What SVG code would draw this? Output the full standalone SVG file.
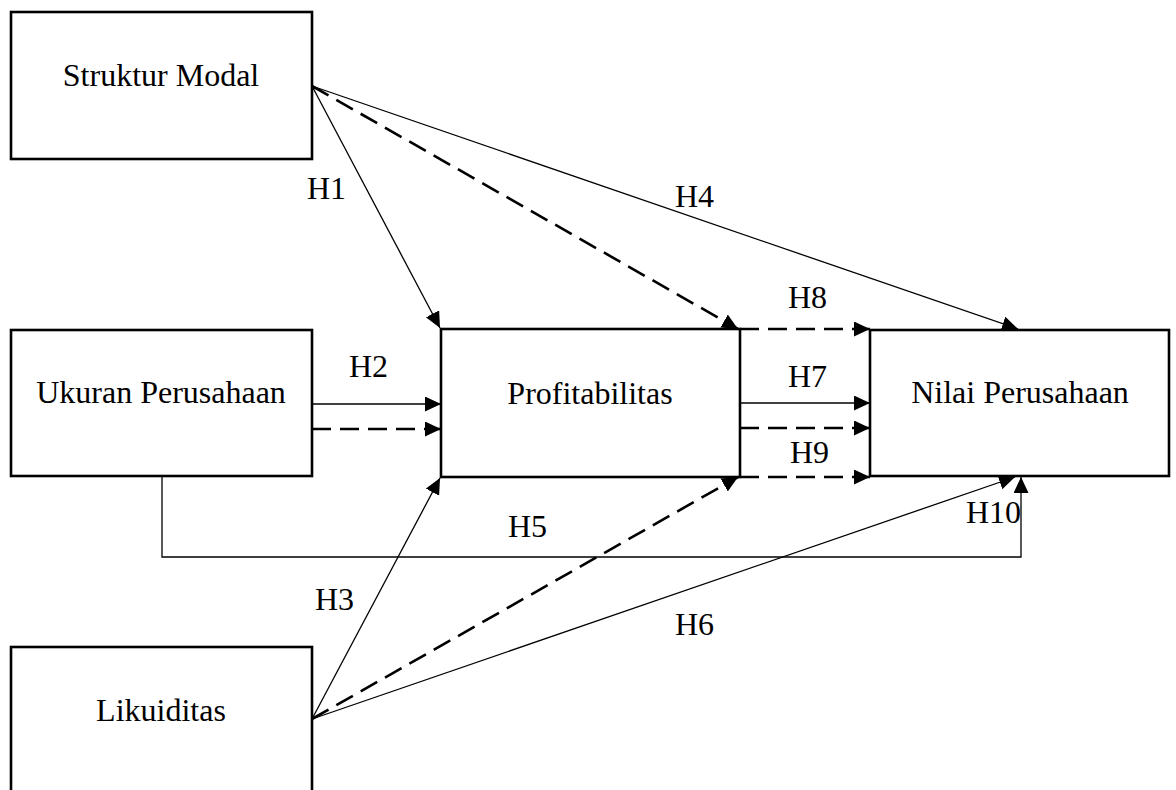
<svg xmlns="http://www.w3.org/2000/svg" width="1176" height="790" viewBox="0 0 1176 790">
<style>
.box{fill:#fff;stroke:#000;stroke-width:2.6}
.lbl{font-family:"Liberation Serif","Times New Roman",serif;font-size:32px;fill:#000;text-anchor:middle}
.h{font-family:"Liberation Serif","Times New Roman",serif;font-size:32px;fill:#000}
.solid{fill:none;stroke:#000;stroke-width:1.3}
.dash{fill:none;stroke:#000;stroke-width:2.6;stroke-dasharray:19 9}
</style>
<defs>
<marker id="ah" markerUnits="userSpaceOnUse" markerWidth="16" markerHeight="16" refX="16" refY="7.5" orient="auto">
<path d="M0,0 L16,7.5 L0,15 z" fill="#000"/>
</marker>
</defs>
<rect width="1176" height="790" fill="#fff"/>
<g id="struktur-modal"><rect class="box" x="11" y="12" width="301" height="147"/><text class="lbl" x="161" y="86">Struktur Modal</text></g>
<g id="ukuran-perusahaan"><rect class="box" x="11" y="330" width="301" height="146"/><text class="lbl" x="161" y="403">Ukuran Perusahaan</text></g>
<g id="profitabilitas"><rect class="box" x="441" y="329" width="299" height="148"/><text class="lbl" x="590" y="404">Profitabilitas</text></g>
<g id="nilai-perusahaan"><rect class="box" x="870" y="330" width="299" height="146"/><text class="lbl" x="1020" y="403">Nilai Perusahaan</text></g>
<g id="likuiditas"><rect class="box" x="11" y="647" width="301" height="160"/><text class="lbl" x="161" y="721">Likuiditas</text></g>
<g id="connectors">
<line class="solid" x1="312" y1="86" x2="440" y2="328" marker-end="url(#ah)"/>
<line class="dash" x1="312" y1="86" x2="738" y2="329" marker-end="url(#ah)"/>
<line class="solid" x1="312" y1="86" x2="1018" y2="329" marker-end="url(#ah)"/>
<line class="solid" x1="312" y1="404" x2="441" y2="404" marker-end="url(#ah)"/>
<line class="dash" x1="312" y1="429" x2="441" y2="429" marker-end="url(#ah)"/>
<line class="dash" x1="740" y1="329" x2="870" y2="329" marker-end="url(#ah)"/>
<line class="solid" x1="740" y1="403" x2="870" y2="403" marker-end="url(#ah)"/>
<line class="dash" x1="740" y1="428" x2="870" y2="428" marker-end="url(#ah)"/>
<line class="dash" x1="740" y1="477" x2="870" y2="477" marker-end="url(#ah)"/>
<line class="solid" x1="312" y1="719" x2="440" y2="478" marker-end="url(#ah)"/>
<line class="dash" x1="312" y1="719" x2="738" y2="477" marker-end="url(#ah)"/>
<line class="solid" x1="312" y1="719" x2="1015" y2="477" marker-end="url(#ah)"/>
<polyline class="solid" points="162,476 162,557 1021,557 1021,477" stroke-width="1.5" marker-end="url(#ah)"/>
</g>
<g id="labels">
<text class="h" x="307" y="199">H1</text>
<text class="h" x="675" y="207">H4</text>
<text class="h" x="788" y="308">H8</text>
<text class="h" x="349" y="377">H2</text>
<text class="h" x="788" y="387">H7</text>
<text class="h" x="790" y="463">H9</text>
<text class="h" x="966" y="523">H10</text>
<text class="h" x="508" y="537">H5</text>
<text class="h" x="315" y="610">H3</text>
<text class="h" x="675" y="635">H6</text>
</g>
</svg>
